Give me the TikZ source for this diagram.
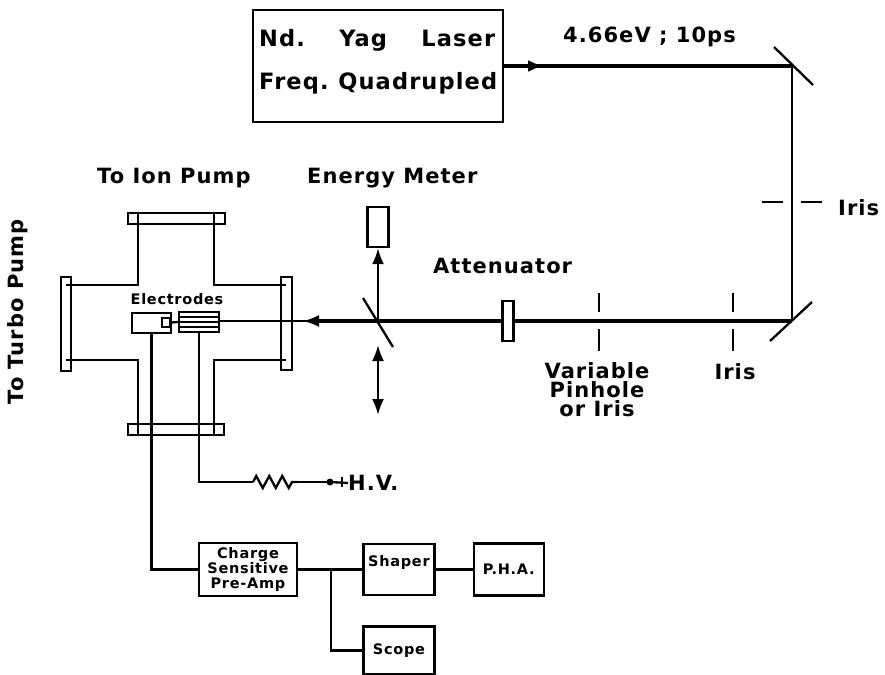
\documentclass[tikz,border=0pt]{standalone}
\usepackage{fontspec}
\setmainfont{DejaVu Sans}[LetterSpace=5]
\usetikzlibrary{arrows.meta, positioning, decorations.pathmorphing}

\tikzset{
  box/.style={draw, line width=2.4pt, inner sep=0pt, align=center},
  wire/.style={line width=2.3pt},
  beam/.style={line width=3.2pt},
  thin wire/.style={line width=2pt},
  tip/.style={-{Latex[length=16pt,width=12pt]}},
  lbl/.style={inner sep=0pt, font=\fontsize{21}{19}\selectfont\bfseries},
  big lbl/.style={inner sep=0pt, anchor=west, font=\fontsize{22.5}{25}\selectfont\bfseries},
  small lbl/.style={inner sep=0pt, align=center, font=\fontsize{14.5}{15}\selectfont\bfseries},
}

\begin{document}
\begin{tikzpicture}[x=1pt, y=-1pt]
\useasboundingbox (0,0) rectangle (885,674);

% laser and upper path
\node[box, minimum width=250pt, minimum height=112pt] (laser) at (378,66) {};
\node[big lbl] (laserone) at (259,40) {\makebox[236pt][s]{Nd.\hfill Yag\hfill Laser}};
\node[big lbl] (lasertwo) at (259,83) {\makebox[238pt][s]{Freq.\hfill Quadrupled}};
\node[lbl, anchor=west] (energy) at (563,37) {4.66eV ; 10ps};
\coordinate (mirrortop) at (792,66);
\coordinate (mirrorbot) at (792,321);
\coordinate (split) at (378,321);
\coordinate (arrowa) at (544,66);
\draw[beam] (laser.east) -- (mirrortop);
\draw[beam, tip] (laser.east) -- (arrowa);
\draw[wire] (mirrortop) -- (mirrorbot);
\draw[wire] ([shift={(-18,-19)}]mirrortop) -- ([shift={(21,19)}]mirrortop);
\draw[wire] ([shift={(-22,20)}]mirrorbot) -- ([shift={(20,-19)}]mirrorbot);
\draw[wire] (762,202) -- (783,202);
\draw[wire] (801,202) -- (822,202);
\node[lbl, anchor=west] (irisa) at (838,208) {Iris};

% lower path
\coordinate (arrowb) at (303,321);
\coordinate (arrowc) at (317,321);
\coordinate (elecin) at (219,321);
\draw[beam] (mirrorbot) -- (arrowc);
\draw[wire, tip] (arrowc) -- (arrowb);
\draw[thin wire] (arrowc) -- (elecin);
\node[box, fill=white, minimum width=11pt, minimum height=40pt] (atten) at (508,321) {};
\node[lbl, anchor=west] (attenlbl) at (433,266) {Attenuator};
\draw[wire] (599,293) -- (599,312);
\draw[wire] (599,329) -- (599,351);
\draw[wire] (733,293) -- (733,312);
\draw[wire] (733,329) -- (733,351);
\node[lbl, align=center] (pinhole) at (597,390) {Variable\\Pinhole\\or Iris};
\node[lbl] (irisb) at (735,372) {Iris};

% energy meter
\node[box, minimum width=21pt, minimum height=40pt] (meter) at (378,227) {};
\node[lbl, anchor=west] (meterlbl) at (307,178) {Energy Meter};
\node[lbl, anchor=west] (ionlbl) at (97,178) {To Ion Pump};
\node[lbl, rotate=90] (turbolbl) at (18,312) {To Turbo Pump};
\draw[wire, tip] (split) -- (meter.south);
\draw[wire] ([shift={(-15,-23)}]split) -- ([shift={(15,26)}]split);
\draw[wire, {Latex[length=16pt,width=12pt]}-{Latex[length=16pt,width=12pt]}] (378,345) -- (378,415);

% vacuum chamber
\draw[wire] (138,213) -- (138,285) -- (66,285);
\draw[wire] (214,213) -- (214,285) -- (286,285);
\draw[wire] (66,360) -- (138,360) -- (138,435);
\draw[wire] (286,360) -- (214,360) -- (214,435);
\draw[wire] (128,213) rectangle (225,224);
\draw[wire] (128,424) rectangle (224,435);
\draw[wire] (61,277) rectangle (71,371);
\draw[wire] (281,277) rectangle (292,370);

% electrodes
\node[small lbl] (eleclbl) at (177,299) {Electrodes};
\node[box, fill=white, minimum width=39pt, minimum height=20pt] (elecl) at (151.5,323) {};
\node[box, minimum width=8pt, minimum height=9pt] (elecs) at (166,322.5) {};
\node[box, fill=white, minimum width=40pt, minimum height=20pt] (elecr) at (199,322) {};
\draw[line width=1.2pt] (179,317) -- (219,317);
\draw[line width=1.2pt] (179,322) -- (219,322);
\draw[line width=1.2pt] (179,327) -- (219,327);
\draw[wire] (elecs.east) -- (elecr.west);

% electronics
\node[box, small lbl, minimum width=98pt, minimum height=53pt] (charge) at (248,569.5) {Charge\\Sensitive\\Pre-Amp};
\node[box, small lbl, minimum width=71pt, minimum height=51pt, right=64pt of charge] (shaper) {Shaper\\[3pt]};
\node[box, small lbl, minimum width=70pt, minimum height=52pt, right=37pt of shaper] (pha) {P.H.A.};
\node[box, small lbl, minimum width=71pt, minimum height=48pt, below=29pt of shaper] (scope) {Scope};
\coordinate (branch) at (331,569.5);
\draw[wire] (elecl.south) |- (charge.west);
\draw[wire] (charge.east) -- (shaper.west);
\draw[wire] (shaper.east) -- (pha.west);
\draw[wire] (branch) |- (scope.west);

% high voltage
\coordinate (resin) at (253,482);
\coordinate (resout) at (297,482);
\coordinate (hvdot) at (330,482);
\node[lbl, anchor=west] (hv) at (348,483) {H.V.};
\draw[wire] (elecr.south) |- (resin);
\draw[wire, decorate, decoration={zigzag, segment length=13pt, amplitude=6pt}] (resin) -- (resout);
\draw[wire] (resout) -- (hvdot);
\fill (hvdot) circle (3.5pt);
\draw[wire] (hvdot) -- (hv.west);
\draw[wire] (342,477) -- (342,487);
\end{tikzpicture}
\end{document}
